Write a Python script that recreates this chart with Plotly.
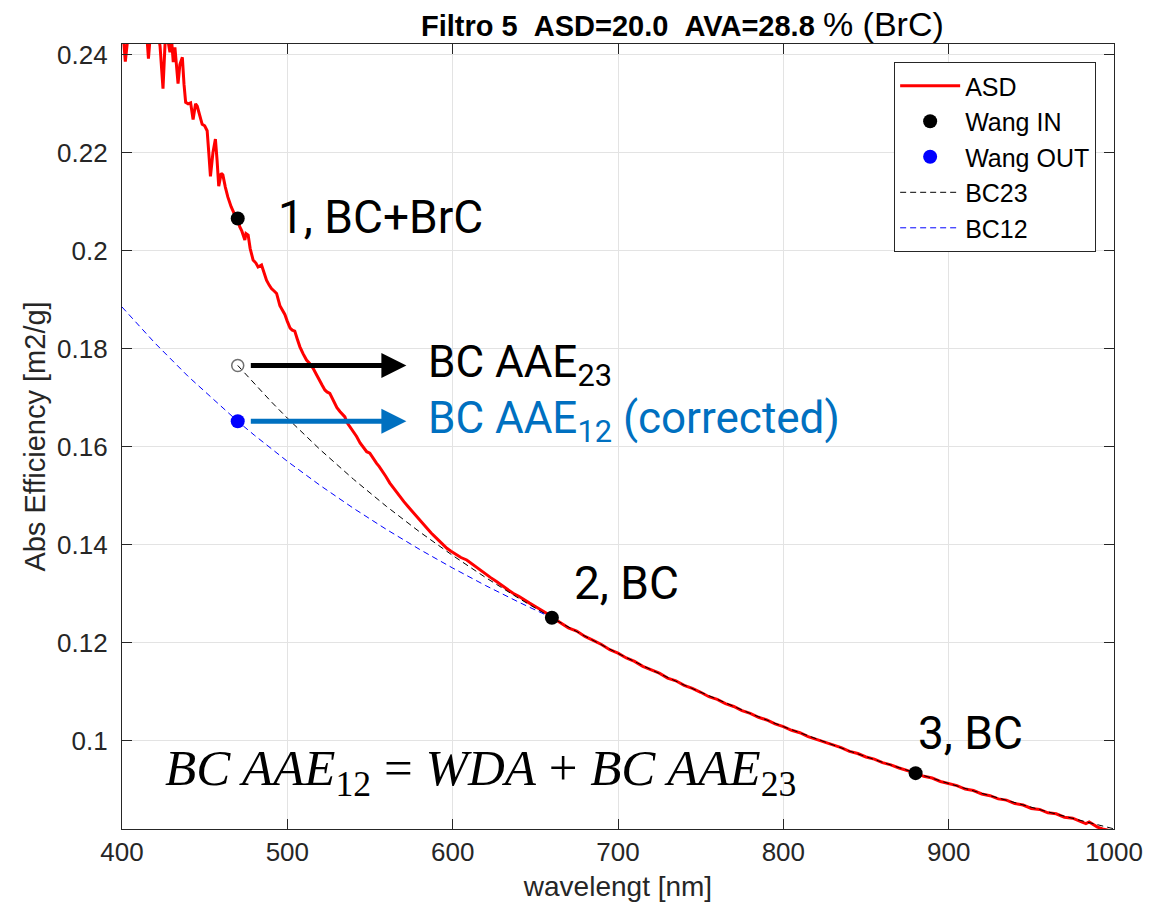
import plotly.graph_objects as go

# ---- ASD absorption efficiency spectrum (wavelength in nm, value in m2/g) ----
asd_wl = [400, 401, 402, 403, 404, 406, 408, 410, 412, 413, 414, 415, 416, 417, 418, 420,
          422, 423, 424.8, 426, 427, 428, 429, 430, 431, 432, 433.9, 435, 436.5, 437.5, 438.5,
          440, 441.5, 443, 444.5, 445.5, 447, 448.5, 450, 451.5, 452.5, 453.5, 455, 456.5,
          457.5, 458.5, 460, 461, 462.5, 464, 466, 468, 470, 471.2, 472.5, 474.3, 475, 476.3,
          477.5, 479.3, 481, 482.3, 484.4, 486, 487.4, 489, 490.4, 492, 493.5, 495.5, 497,
          498.5, 500, 501.7, 503, 504.5, 506, 507.6, 509.5, 511.6, 513.5, 515.6, 517.5, 519.7,
          521, 522.7, 524, 525.7, 527, 528.8, 530, 531.8, 533, 534.8, 536, 537.8, 540, 541.9,
          544, 546.9, 548, 549.9, 552, 554, 555.5, 557, 559.5, 562, 565, 568, 570.5, 573,
          575.5, 578, 580, 582, 585, 587, 590, 592, 594, 596.5, 599, 602.5, 605, 608.5, 612,
          616.5, 620, 623, 626.5, 630, 633, 636.5, 640, 643, 646.5, 650, 653, 657, 660,
          665, 670, 675, 680, 685, 690, 695, 700, 705, 710, 715, 720, 725, 730, 735, 740,
          745, 750, 755, 760, 765, 770, 775, 780, 785, 790, 795, 800, 805, 810, 815, 820,
          825, 830, 835, 840, 845, 850, 855, 860, 865, 870, 875, 880, 885, 890, 895, 900,
          905, 910, 915, 920, 925, 930, 935, 940, 945, 950, 955, 960, 965, 970, 975, 980,
          983, 985, 987, 990, 993, 996, 1000]
asd_abs = [0.2445, 0.2430, 0.2386, 0.2428, 0.2450, 0.2460, 0.2440, 0.2452, 0.2435, 0.2446,
           0.2425, 0.2440, 0.2392, 0.2435, 0.2455, 0.2448, 0.2440, 0.2418, 0.2331, 0.2420,
           0.2450, 0.2425, 0.2405, 0.2430, 0.2385, 0.2415, 0.2341, 0.2380, 0.2395, 0.2340,
           0.2303, 0.2300, 0.2302, 0.2268, 0.2300, 0.2295, 0.2278, 0.2258, 0.2255, 0.2245,
           0.2200, 0.2152, 0.2200, 0.2228, 0.2185, 0.2132, 0.2158, 0.2155, 0.2130, 0.2110,
           0.2090, 0.2075, 0.2066, 0.2049, 0.2040, 0.2022, 0.2035, 0.2032, 0.2005, 0.1981,
           0.1975, 0.1967, 0.1971, 0.1952, 0.1940, 0.1930, 0.1923, 0.1918, 0.1913, 0.1888,
           0.1880, 0.1870, 0.1856, 0.1842, 0.1838, 0.1836, 0.1820, 0.1804, 0.1790, 0.1777,
           0.1770, 0.1760, 0.1748, 0.1736, 0.1726, 0.1716, 0.1712, 0.1709, 0.1700, 0.1689,
           0.1680, 0.1672, 0.1668, 0.1661, 0.1650, 0.1641, 0.1632, 0.1621, 0.1608, 0.1593,
           0.1590, 0.1587, 0.1575, 0.1566, 0.1560, 0.1553, 0.1540, 0.1526, 0.1512, 0.1498,
           0.1488, 0.1478, 0.1468, 0.1458, 0.1451, 0.1444, 0.1432, 0.1424, 0.1414, 0.1407,
           0.1400, 0.1393, 0.1387, 0.1380, 0.1374, 0.1369, 0.1360, 0.1349, 0.1341, 0.1333,
           0.1325, 0.1317, 0.1309, 0.1301, 0.1295, 0.1288, 0.1281, 0.1274, 0.1268, 0.1260,
           0.1252,
           0.12420, 0.12305, 0.12240, 0.12130, 0.12050, 0.11965, 0.11860, 0.11790, 0.11690,
           0.11620, 0.11520, 0.11450, 0.11380, 0.11280, 0.11225, 0.11130, 0.11070, 0.10990,
           0.10900, 0.10845, 0.10760, 0.10700, 0.10615, 0.10560, 0.10480, 0.10425, 0.10345,
           0.10290, 0.10215, 0.10165, 0.10085, 0.10030, 0.09975, 0.09905, 0.09860, 0.09785,
           0.09740, 0.09670, 0.09625, 0.09555, 0.09510, 0.09445, 0.09400, 0.09340, 0.09275,
           0.09240, 0.09170, 0.09120, 0.09085, 0.09015, 0.08985, 0.08915, 0.08880, 0.08815,
           0.08790, 0.08720, 0.08690, 0.08620, 0.08600, 0.08530, 0.08510, 0.08440, 0.08420,
           0.08350, 0.08310, 0.08345, 0.08300, 0.08240, 0.08200, 0.08180, 0.08150]

# ---- BC fit through points 2 and 3 (AAE23), extended down to 470 nm ----
bc23_wl = [470, 480, 490, 500, 520, 540, 560, 580, 600, 620, 640, 660, 680, 700, 720, 740,
           760, 780, 800, 820, 840, 860, 880, 900, 920, 940, 960, 980, 1000]
bc23_abs = [0.1766, 0.17288, 0.16929, 0.16585, 0.15937, 0.15338, 0.14782, 0.14264, 0.13782,
            0.13330, 0.12907, 0.1251, 0.12136, 0.11784, 0.11452, 0.11138, 0.10840, 0.10558,
            0.10290, 0.10035, 0.09792, 0.09561, 0.09340, 0.09129, 0.08928, 0.08735, 0.08550,
            0.08373, 0.08203]

# ---- BC fit through points 1 (corrected) and 2 (AAE12) ----
bc12_wl = [400, 420, 440, 460, 470, 480, 500, 520, 540, 560, 580, 600, 620, 640, 660]
bc12_abs = [0.18853, 0.18114, 0.17437, 0.16813, 0.16520, 0.16238, 0.15704, 0.15208, 0.14745,
            0.14312, 0.13906, 0.13526, 0.13167, 0.12829, 0.1251]

# ---- Wang method points ----
wang_in_wl = [470, 660, 880]
wang_in_abs = [0.2066, 0.1251, 0.0934]
wang_out_wl = [470]
wang_out_abs = [0.1652]
bc23_470_wl = [470]
bc23_470_abs = [0.1766]

point_labels = ["1, BC+BrC", "2, BC", "3, BC"]
point_label_pos = [(493, 0.2069), (672, 0.1322), (880, 0.1015)]

x_ticks = [400, 500, 600, 700, 800, 900, 1000]
y_ticks = [0.1, 0.12, 0.14, 0.16, 0.18, 0.2, 0.22, 0.24]
y_ticklabels = ["0.1", "0.12", "0.14", "0.16", "0.18", "0.2", "0.22", "0.24"]

AX = "#262626"
SANS = "Liberation Sans, Arial, Helvetica, sans-serif"
LABEL_FONT = "Roboto, Liberation Sans, sans-serif"
BLUE_TXT = "#0070C0"

fig = go.Figure()

fig.add_trace(go.Scatter(x=asd_wl, y=asd_abs, mode="lines", name="ASD",
                         line=dict(color="#FF0000", width=3), legendrank=1))
fig.add_trace(go.Scatter(x=bc23_wl, y=bc23_abs, mode="lines", name="BC23",
                         line=dict(color="#000000", width=1, dash="6px,4px"), legendrank=4))
fig.add_trace(go.Scatter(x=bc12_wl, y=bc12_abs, mode="lines", name="BC12",
                         line=dict(color="#0000FF", width=1, dash="6px,4px"), legendrank=5))
fig.add_trace(go.Scatter(x=bc23_470_wl, y=bc23_470_abs, mode="markers", showlegend=False,
                         marker=dict(symbol="circle-open", size=12, color="#707070",
                                     line=dict(width=1.5, color="#707070"))))
fig.add_trace(go.Scatter(x=wang_in_wl, y=wang_in_abs, mode="markers", name="Wang IN",
                         marker=dict(color="#000000", size=14), legendrank=2))
fig.add_trace(go.Scatter(x=wang_out_wl, y=wang_out_abs, mode="markers", name="Wang OUT",
                         marker=dict(color="#0000FF", size=14), legendrank=3))

annotations = []
for txt, (lx, ly) in zip(point_labels, point_label_pos):
    annotations.append(dict(x=lx, y=ly, xref="x", yref="y", text=txt, showarrow=False,
                            xanchor="left", yanchor="middle",
                            font=dict(family=LABEL_FONT, size=46, color="#000000")))

# arrows pointing from the 470 nm estimates to their labels
arrow_tip = 572
annotations.append(dict(x=arrow_tip, y=bc23_470_abs[0], ax=477, ay=bc23_470_abs[0],
                        xref="x", yref="y", axref="x", ayref="y", text="", showarrow=True,
                        arrowhead=2, arrowsize=1, arrowwidth=5, arrowcolor="#000000"))
annotations.append(dict(x=arrow_tip, y=wang_out_abs[0], ax=477, ay=wang_out_abs[0],
                        xref="x", yref="y", axref="x", ayref="y", text="", showarrow=True,
                        arrowhead=2, arrowsize=1, arrowwidth=5, arrowcolor=BLUE_TXT))
annotations.append(dict(x=584, y=bc23_470_abs[0], xref="x", yref="y",
                        text="BC AAE<sub>23</sub>", showarrow=False,
                        xanchor="left", yanchor="middle",
                        font=dict(family=LABEL_FONT, size=44, color="#000000")))
annotations.append(dict(x=584, y=wang_out_abs[0], xref="x", yref="y",
                        text="BC AAE<sub>12</sub> (corrected)", showarrow=False,
                        xanchor="left", yanchor="middle",
                        font=dict(family=LABEL_FONT, size=44, color=BLUE_TXT)))

# relation between the two absorption exponents
annotations.append(dict(x=617, y=0.0937, xref="x", yref="y",
                        text="<i>BC AAE</i><sub>12</sub> = <i>WDA</i> + <i>BC AAE</i><sub>23</sub>",
                        showarrow=False, xanchor="center", yanchor="middle",
                        font=dict(family="Liberation Serif, DejaVu Serif, serif", size=51,
                                  color="#000000")))

# title
annotations.append(dict(x=0.565, y=1.0, xref="paper", yref="paper", yshift=20,
                        text="<b>Filtro 5\u00a0\u00a0ASD=20.0\u00a0\u00a0AVA=28.8</b> "
                             "<span style='font-size:34px'>% (BrC)</span>",
                        showarrow=False, xanchor="center", yanchor="middle",
                        font=dict(family=SANS, size=29, color="#000000")))

fig.update_layout(
    width=1171, height=907,
    margin=dict(l=122, r=57, t=44, b=78),
    paper_bgcolor="white", plot_bgcolor="white",
    showlegend=True,
    legend=dict(x=0.982, y=0.977, xanchor="right", yanchor="top",
                bgcolor="white", bordercolor="#262626", borderwidth=1,
                font=dict(family=SANS, size=25, color="#000000"),
                itemwidth=60, traceorder="normal"),
    annotations=annotations,
)

fig.update_xaxes(range=[400, 1000], tickvals=x_ticks, ticks="inside", ticklen=10,
                 tickcolor=AX, showline=True, linecolor=AX, linewidth=1.2, mirror="ticks",
                 showgrid=True, gridcolor="#E3E3E3", gridwidth=1, zeroline=False,
                 tickfont=dict(family=SANS, size=26, color=AX), automargin=False,
                 title=dict(text="wavelengt [nm]", font=dict(family=SANS, size=28, color=AX),
                            standoff=10))
fig.update_yaxes(range=[0.0820, 0.2422], tickvals=y_ticks, ticktext=y_ticklabels,
                 ticks="inside", ticklen=10, ticklabelstandoff=8,
                 tickcolor=AX, showline=True, linecolor=AX, linewidth=1.2, mirror="ticks",
                 showgrid=True, gridcolor="#E3E3E3", gridwidth=1, zeroline=False,
                 tickfont=dict(family=SANS, size=26, color=AX), automargin=False,
                 title=dict(text="Abs Efficiency [m2/g]",
                            font=dict(family=SANS, size=29, color=AX), standoff=2))

fig.write_html("out.html")
